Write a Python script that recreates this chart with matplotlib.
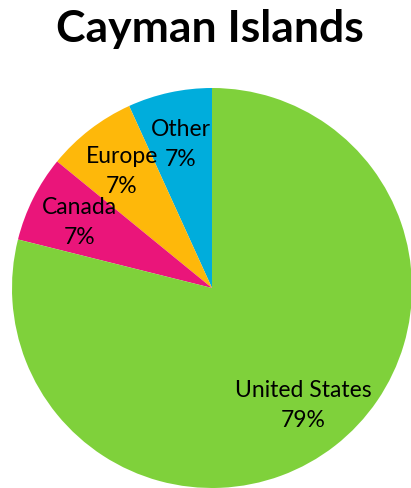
import matplotlib
matplotlib.use("Agg")
from matplotlib import pyplot as plt

# data
regions = ["Other", "Europe", "Canada", "United States"]
shares = [6.8, 7.3, 7.0, 78.9]
pct_labels = ["7%", "7%", "7%", "79%"]
colors = ["#00ADDC", "#FEB80A", "#EA157A", "#7FD13B"]

plt.rcParams['font.family'] = ['Lato', 'DejaVu Sans']

W, H = 411, 489
fig = plt.figure(figsize=(W / 100, H / 100), dpi=100)
ax = fig.add_axes([0, 0, 1, 1])

labels = [r + "\n" + p for r, p in zip(regions, pct_labels)]
wedges, texts = ax.pie(shares, labels=labels, colors=colors, startangle=90,
                       counterclock=True, center=(212, 200), radius=200,
                       labeldistance=0.74, frame=True,
                       wedgeprops=dict(linewidth=0),
                       textprops=dict(fontsize=16.5, color='black',
                                      linespacing=1.55))
for t in texts:
    t.set_ha('center')
    t.set_va('center')
ax.set_xlim(0, W)
ax.set_ylim(0, H)
ax.axis('off')

fig.text(0.51, 1 - 29 / H, "Cayman Islands", ha='center', va='center',
         fontsize=32, fontweight='bold')

fig.savefig("out.png", dpi=100)
